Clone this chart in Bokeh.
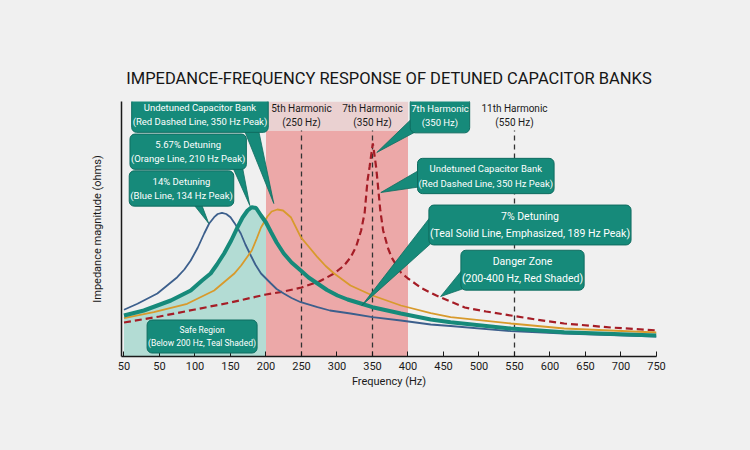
import numpy as np
from bokeh.plotting import figure
from bokeh.models import Range1d, FixedTicker, Label
from bokeh.embed import file_html
from bokeh.resources import INLINE

# frequency (Hz) and impedance (relative units, no scale on the chart)
f_blue = [0, 19, 47, 75, 85, 94, 104, 113, 120, 127, 132, 138, 144, 150, 157, 164.5, 171, 178.6, 185, 193,
          200, 207, 215, 225, 236, 249, 272.5, 290, 319, 350, 390, 432, 460, 545, 620, 750]
z_blue = [46.7, 52.7, 63, 79.3, 87, 96, 109, 123, 133, 139.3, 142.5, 143.7, 142.5, 139.3, 132, 123, 112, 101, 92, 83,
          78, 73, 67.5, 63, 58.5, 54.3, 49.3, 46, 43, 39.3, 36, 32, 30.5, 25.3, 23, 20]

f_teal = [0, 28, 66, 94, 110, 122, 131, 141, 151, 160, 167, 174, 180, 186, 193, 200, 207, 215, 225, 236,
          249, 260, 272.5, 286, 300.7, 315, 333.5, 350, 390, 432, 460, 545, 620, 750]
z_teal = [41, 46, 56, 66, 76, 83, 92, 103, 116, 129.3, 139, 146, 149.3, 148.5, 141, 134, 124.5, 114, 103, 94,
          86, 79, 73, 66.5, 61, 57, 53, 49.3, 43, 37, 34.3, 28, 24.3, 21]

f_orange = [0, 42, 89, 127, 155, 165, 172, 180, 187, 193, 202, 208, 216, 224, 235, 249, 260, 272.5, 284,
            296, 319, 350, 390, 432, 460, 545, 620, 750]
z_orange = [38.3, 44.3, 52.7, 66, 82.7, 91, 98, 106, 118, 129, 140, 145, 147, 146, 139.3, 119.3, 110, 99.3, 90.5,
            83, 71, 61, 51, 43.3, 39.3, 33, 28, 24]

f_red = [0, 50, 100, 150, 200, 225, 250, 275, 296, 310, 319, 327, 334, 339, 343, 346, 348.5, 350.5, 352.5,
         355, 357, 361, 365, 372, 377, 390, 400, 420, 440, 460, 480, 510, 545, 580, 620, 686, 750]
z_red = [34, 40, 47, 54, 62, 65, 69, 75, 83, 91, 99, 110, 126, 144, 176, 190, 203, 213, 203,
         190, 176, 146, 126, 108, 99, 84, 78, 68, 61, 55, 49, 45, 41, 37, 33, 29, 26]

safe_zone = (0, 200)
danger_zone = (200, 400)
harmonics = [250, 350, 550]
harmonic_labels = ["5th Harmonic\n(250 Hz)", "7th Harmonic\n(350 Hz)", "11th Harmonic\n(550 Hz)"]

tick_values = [0, 50, 100, 150, 200, 250, 300, 350, 400, 450, 500, 550, 600, 650, 700, 750]
tick_labels = ["50", "50", "100", "150", "200", "250", "300", "350", "400", "450", "500", "550",
               "600", "650", "700", "750"]

# callouts: text, box centre (Hz, z), font size, pointer (base1, base2, tip) or None
callouts = [
    ("Undetuned Capacitor Bank\n(Red Dashed Line, 350 Hz Peak)", 107, 241.8, "9.5px",
     [(164.5, 235), (187, 235), (211, 153)]),
    ("5.67% Detuning\n(Orange Line, 210 Hz Peak)", 90.4, 204.8, "9.5px",
     [(147.6, 198), (164.5, 198), (177.2, 151)]),
    ("14% Detuning\n(Blue Line, 134 Hz Peak)", 81, 168, "9.5px",
     [(87, 162), (104, 162), (119.4, 133)]),
    ("7th Harmonic\n(350 Hz)", 445, 241.3, "9.5px",
     [(410, 241), (422, 229), (356, 204)]),
    ("Undetuned Capacitor Bank\n(Red Dashed Line, 350 Hz Peak)", 509.6, 180.5, "9.5px",
     [(415, 186), (420, 170), (361.7, 164)]),
    ("7% Detuning\n(Teal Solid Line, Emphasized, 189 Hz Peak)", 571.8, 131.5, "10.5px",
     [(432, 140), (440, 118), (335, 51)]),
    ("Danger Zone\n(200-400 Hz, Red Shaded)", 561.3, 86.3, "10.5px",
     [(478, 88), (495, 72), (446, 60)]),
    ("Safe Region\n(Below 200 Hz, Teal Shaded)", 110, 20, "8.5px", None),
]

FONT = "Roboto"
TEAL = "#168a7a"
BG = "#f0f0f0"

p = figure(width=750, height=450, output_backend="svg", toolbar_location=None,
           x_range=Range1d(-3.5, 750), y_range=Range1d(0, 255),
           min_border_left=121, min_border_right=94, min_border_top=101, min_border_bottom=94,
           title="IMPEDANCE-FREQUENCY RESPONSE OF DETUNED CAPACITOR BANKS")
p.background_fill_color = BG
p.border_fill_color = BG
p.outline_line_color = None
p.grid.visible = False

p.title.align = "center"
p.title.text_font = FONT
p.title.text_font_size = "16.5px"
p.title.text_font_style = "normal"
p.title.text_color = "#161616"
p.title.standoff = 27

# shaded regions
p.quad(left=danger_zone[0], right=danger_zone[1], bottom=0, top=226, fill_color="#eca8a8", line_color=None)
p.quad(left=danger_zone[0], right=danger_zone[1], bottom=226, top=255, fill_color="#ead1d1", line_color=None)
fs = np.array(f_teal)
zs = np.array(z_teal)
m = (fs >= safe_zone[0]) & (fs <= safe_zone[1])
p.varea(x=fs[m], y1=0, y2=zs[m], fill_color="#b3dcd4")

# harmonic markers
p.segment(x0=harmonics, y0=0, x1=harmonics, y1=226, line_color="#333333", line_width=1.3, line_dash="5 4")
p.text(x=harmonics, y=[241, 241, 241], text=harmonic_labels, text_align="center", text_baseline="middle",
       text_font={"value": FONT}, text_font_size="10px", text_color="#1a1a1a", text_line_height=1.25)

# curves
p.line(f_red, z_red, line_color="#a51d26", line_width=2.2, line_dash="7 4")
p.line(f_blue, z_blue, line_color="#3c5f8c", line_width=1.8)
p.line(f_orange, z_orange, line_color="#d89a2c", line_width=1.8)
p.line(f_teal, z_teal, line_color=TEAL, line_width=4)

# callout pointers and boxes
xs, ys = [], []
for c in callouts:
    if c[4]:
        xs.append([pt[0] for pt in c[4]])
        ys.append([pt[1] for pt in c[4]])
p.patches(xs, ys, fill_color=TEAL, line_color="#0f6c60", line_width=0.8)

for text, fx, fy, size, _ in callouts:
    p.add_layout(Label(x=fx, y=fy, text=text, text_align="center", text_baseline="middle",
                       text_color="white", text_font=FONT, text_font_size=size, text_line_height=1.3,
                       background_fill_color=TEAL, border_line_color="#0f6c60", border_line_width=1,
                       border_radius=5, padding=(1, 5)))

p.xaxis.ticker = FixedTicker(ticks=tick_values)
p.xaxis.major_label_overrides = dict(zip(tick_values, tick_labels))
p.xaxis.minor_tick_line_color = None
p.xaxis.major_tick_in = 5
p.xaxis.major_tick_out = 0
p.xaxis.major_label_standoff = 5
p.xaxis.axis_label = "Frequency (Hz)"
p.xaxis.axis_label_standoff = 2
p.yaxis.ticker = FixedTicker(ticks=[])
p.yaxis.minor_tick_line_color = None
p.yaxis.axis_label = "Impedance magnitude (ohms)"
p.yaxis.axis_label_standoff = 18
for ax in (p.xaxis[0], p.yaxis[0]):
    ax.axis_line_color = "#1a1a1a"
    ax.axis_line_width = 1.5
    ax.major_tick_line_color = "#1a1a1a"
    ax.major_label_text_font = FONT
    ax.major_label_text_font_size = "11px"
    ax.major_label_text_color = "#1a1a1a"
    ax.axis_label_text_font = FONT
    ax.axis_label_text_font_size = "11px"
    ax.axis_label_text_font_style = "normal"
    ax.axis_label_text_color = "#1a1a1a"

html = file_html(p, INLINE)
html = html.replace("</head>", "<style>html, body {margin: 0; overflow: hidden; background: #f0f0f0;}</style></head>", 1)
open("out.html", "w").write(html)
